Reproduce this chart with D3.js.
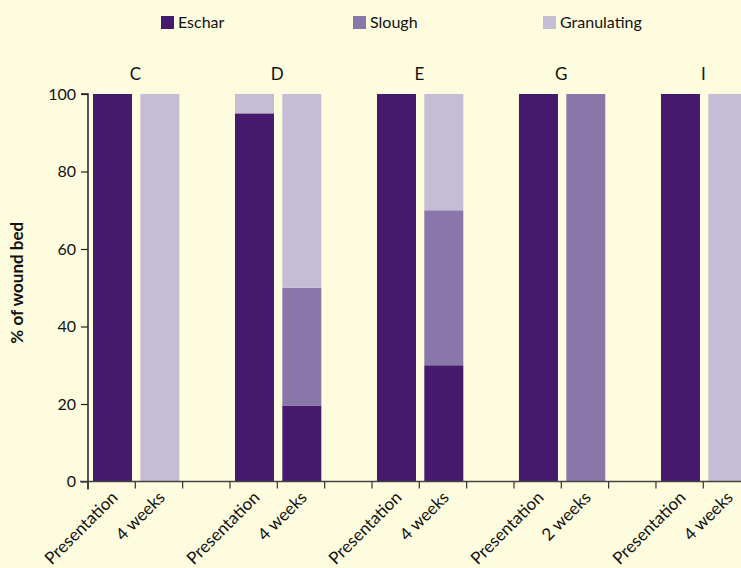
<!DOCTYPE html>
<html>
<head>
<meta charset="utf-8">
<script src="https://cdn.jsdelivr.net/npm/d3@7/dist/d3.min.js"></script>
<style>
  html, body { margin: 0; padding: 0; background: #FEFCDE; }
  svg { display: block; font-family: "Lato", "Open Sans", sans-serif; }
</style>
</head>
<body>
<svg id="chart" width="741" height="568"></svg>
<script>
// ---- data ----
const patients = ["C", "D", "E", "G", "I"];
const timepoints = [
  ["Presentation", "4 weeks"],
  ["Presentation", "4 weeks"],
  ["Presentation", "4 weeks"],
  ["Presentation", "2 weeks"],
  ["Presentation", "4 weeks"]
];
const series = ["Eschar", "Slough", "Granulating"];
// values per patient: [presentation, follow-up]
const eschar      = [[100, 0], [95, 19.5], [100, 30], [100, 0],   [100, 0]];
const slough      = [[0, 0],   [0, 30.5],  [0, 40],   [0, 100],   [0, 0]];
const granulating = [[0, 100], [5, 50],    [0, 30],   [0, 0],     [0, 100]];
const yTicks = [0, 20, 40, 60, 80, 100];
const colors = ["#45196B", "#8A77AA", "#C5BDD6"];

// ---- build rows ----
const rows = [];
const slots = [];
patients.forEach((p, i) => {
  timepoints[i].forEach((t, j) => {
    const key = p + "|" + j;
    slots.push(key);
    rows.push({ key, patient: p, label: t, Eschar: eschar[i][j], Slough: slough[i][j], Granulating: granulating[i][j] });
  });
  slots.push("gap" + i);
});

const svg = d3.select("#chart");
const W = 741, H = 568;
const x0 = 88, slotW = 47.33;
const x = d3.scaleBand().domain(slots).range([x0, x0 + slotW * slots.length]).padding(0);
const y = d3.scaleLinear().domain([0, 100]).range([481.5, 94]);
const color = d3.scaleOrdinal().domain(series).range(colors);

const stack = d3.stack().keys(series)(rows);

// bars
const barOff = 5, barW = 39;
svg.append("g").selectAll("g").data(stack).join("g")
  .attr("fill", d => color(d.key))
  .selectAll("rect").data(d => d.filter(s => s[1] - s[0] > 0)).join("rect")
  .attr("x", d => x(d.data.key) + barOff)
  .attr("width", barW)
  .attr("y", d => y(d[1]))
  .attr("height", d => y(d[0]) - y(d[1]));

// y axis
const yAxis = svg.append("g").attr("transform", `translate(${x0},0)`)
  .call(d3.axisLeft(y).tickValues(yTicks).tickSize(7).tickPadding(5));
yAxis.select(".domain").attr("stroke", "#222").attr("stroke-width", 1.5).attr("d", `M-7,${y(100)}H0V${y(0)+8}`);
yAxis.selectAll(".tick line").attr("stroke", "#222").attr("stroke-width", 1.2);
yAxis.selectAll(".tick text").attr("font-size", 16).attr("fill", "#111").attr("font-family", "Lato, sans-serif");

// x axis
const xAxis = svg.append("g").attr("transform", `translate(0,${y(0)})`);
xAxis.append("line").attr("x1", x0 - 8).attr("x2", W).attr("y1", 0).attr("y2", 0)
  .attr("stroke", "#444").attr("stroke-width", 1.5);
xAxis.selectAll("line.tk").data(slots).join("line").attr("class", "tk")
  .attr("x1", d => x(d)).attr("x2", d => x(d)).attr("y1", 0).attr("y2", 7)
  .attr("stroke", "#333").attr("stroke-width", 1.2);

// x labels
svg.append("g").selectAll("text").data(rows).join("text")
  .attr("transform", d => `translate(${x(d.key) + x.bandwidth() / 2 + 7},${y(0) + 17}) rotate(-45)`)
  .attr("text-anchor", "end")
  .attr("font-size", 17)
  .attr("fill", "#111")
  .text(d => d.label);

// patient letters
svg.append("g").selectAll("text").data(patients).join("text")
  .attr("x", (d, i) => x(d + "|1"))
  .attr("y", 80)
  .attr("text-anchor", "middle")
  .attr("font-size", 17)
  .attr("fill", "#111")
  .text(d => d);

// y title
svg.append("text")
  .attr("transform", `translate(23,${(y(0) + y(100)) / 2 - 5}) rotate(-90)`)
  .attr("text-anchor", "middle")
  .attr("font-size", 17)
  .attr("font-weight", "bold")
  .attr("fill", "#111")
  .text("% of wound bed");

// legend
const legX = [161, 353, 543];
const leg = svg.append("g").selectAll("g").data(series).join("g")
  .attr("transform", (d, i) => `translate(${legX[i]},16)`);
leg.append("rect").attr("width", 13).attr("height", 13).attr("fill", d => color(d));
leg.append("text").attr("x", 17).attr("y", 12).attr("font-size", 16).attr("fill", "#111").text(d => d);
</script>
</body>
</html>
